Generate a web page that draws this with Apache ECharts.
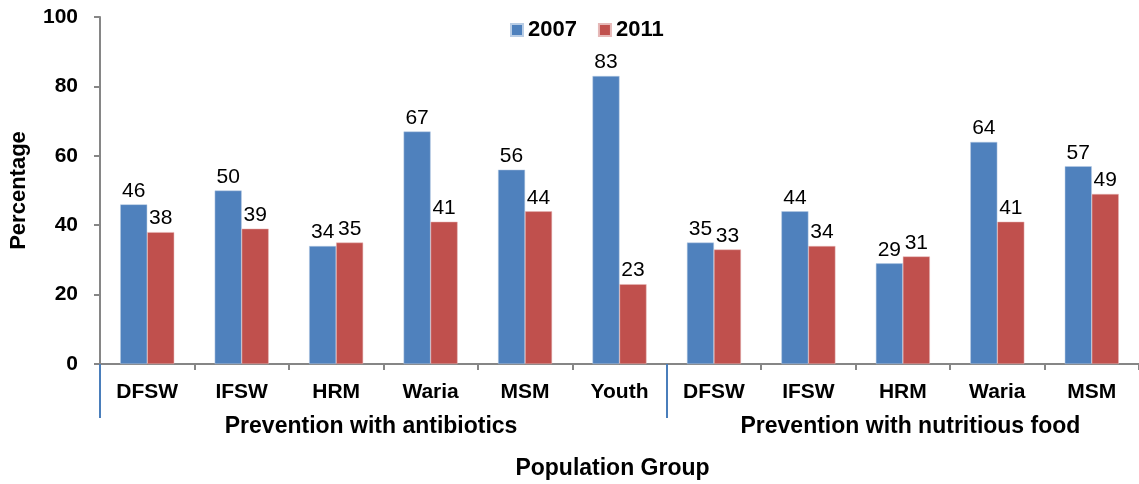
<!DOCTYPE html>
<html>
<head>
<meta charset="utf-8">
<title>Prevention by population group</title>
<script src="https://cdn.jsdelivr.net/npm/echarts@6/dist/echarts.min.js"></script>
<style>
  html, body { margin: 0; padding: 0; background: #fff; }
  #main { width: 1139px; height: 484px; }
</style>
</head>
<body>
<div id="main"></div>
<script>
// categories along the x axis
var groups = ['DFSW', 'IFSW', 'HRM', 'Waria', 'MSM', 'Youth', 'DFSW', 'IFSW', 'HRM', 'Waria', 'MSM'];
// values
var y2007 = [46, 50, 34, 67, 56, 83, 35, 44, 29, 64, 57];
var y2011 = [38, 39, 35, 41, 44, 23, 33, 34, 31, 41, 49];
// outer grouping and how many categories each holds
var sections = ['Prevention with antibiotics', 'Prevention with nutritious food'];
var sectionSizes = [6, 5];

var font = 'Arial, "Liberation Sans", sans-serif';

// boundaries and label spots of the outer groups, in category units
var bounds = [0], centres = [2.87, 8.58];
var acc = 0;
for (var i = 0; i < sectionSizes.length - 1; i++) {
    acc += sectionSizes[i];
    bounds.push(acc);
}

var labelStyle = {
    show: true,
    position: 'top',
    distance: 3,
    color: '#000',
    fontFamily: font,
    fontSize: 21
};

var option = {
    animation: false,
    legend: {
        top: 14,
        left: 505,
        itemWidth: 12,
        itemHeight: 12,
        itemGap: 21,
        icon: 'rect',
        textStyle: { fontFamily: font, fontSize: 22, fontWeight: 'bold', color: '#000' },
        data: ['2007', '2011']
    },
    grid: { left: 100, right: 0, top: 17, bottom: 120, containLabel: false, outerBoundsMode: 'none' },
    xAxis: [{
        type: 'category',
        data: groups,
        name: 'Population Group',
        nameLocation: 'middle',
        nameGap: 93,
        nameTextStyle: { fontFamily: font, fontSize: 23, fontWeight: 'bold', color: '#000', padding: [0, 14, 0, 0] },
        axisLine: { lineStyle: { color: '#868686', width: 2 } },
        axisTick: { show: true, length: 6, lineStyle: { color: '#868686', width: 2 } },
        axisLabel: { margin: 18, color: '#000', fontFamily: font, fontSize: 21, fontWeight: 'bold', interval: 0 }
    }, {
        type: 'value',
        min: 0,
        max: groups.length,
        position: 'bottom',
        axisLine: { show: false },
        splitLine: { show: false },
        axisTick: {
            show: true,
            length: 54,
            customValues: bounds,
            lineStyle: { color: '#4a7ebb', width: 2 }
        },
        axisLabel: {
            margin: 51,
            customValues: centres,
            color: '#000',
            fontFamily: font,
            fontSize: 23,
            fontWeight: 'bold',
            formatter: function (v) {
                var k = centres.indexOf(v);
                return k >= 0 ? sections[k] : '';
            }
        }
    }],
    yAxis: {
        type: 'value',
        min: 0,
        max: 100,
        interval: 20,
        name: 'Percentage',
        nameLocation: 'middle',
        nameGap: 70,
        nameTextStyle: { fontFamily: font, fontSize: 22, fontWeight: 'bold', color: '#000' },
        axisLine: { show: true, lineStyle: { color: '#868686', width: 2 } },
        axisTick: { show: true, length: 6, lineStyle: { color: '#868686', width: 2 } },
        splitLine: { show: false },
        axisLabel: { margin: 22, color: '#000', fontFamily: font, fontSize: 21, fontWeight: 'bold' }
    },
    series: [{
        name: '2007',
        type: 'bar',
        xAxisIndex: 0,
        barWidth: 27,
        barGap: '0%',
        itemStyle: { color: '#4f81bd', borderColor: '#b9cde5', borderWidth: 0.5 },
        label: labelStyle,
        data: y2007
    }, {
        name: '2011',
        type: 'bar',
        xAxisIndex: 0,
        barWidth: 27,
        barGap: '0%',
        itemStyle: { color: '#c0504d', borderColor: '#e6b9b8', borderWidth: 0.5 },
        label: labelStyle,
        data: y2011
    }]
};

var myChart = echarts.init(document.getElementById('main'));
myChart.setOption(option);
</script>
</body>
</html>
